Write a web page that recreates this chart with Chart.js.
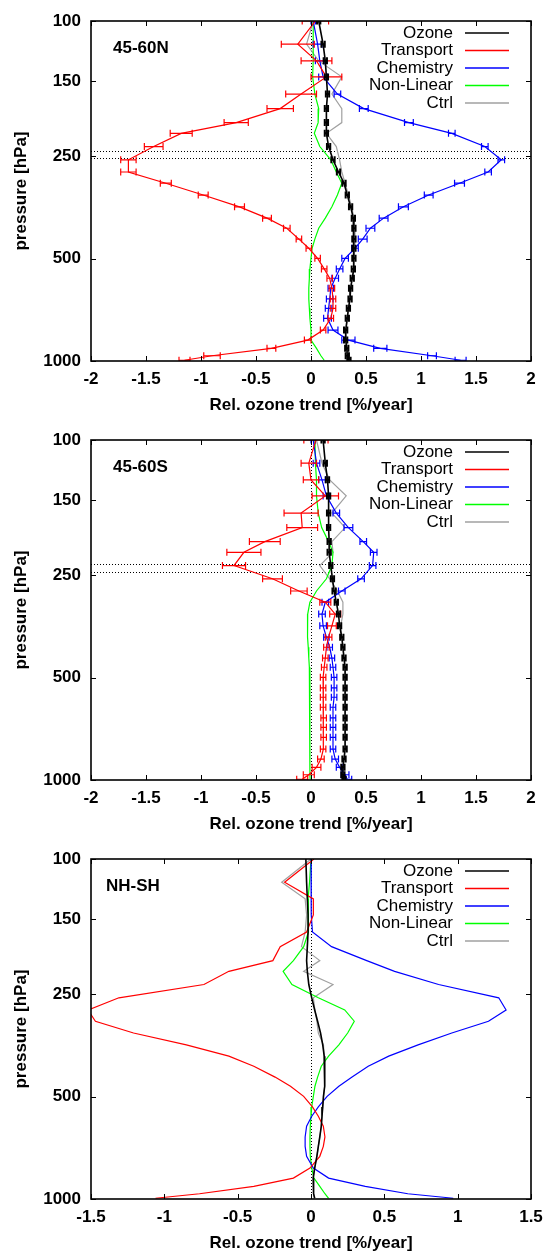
<!DOCTYPE html>
<html>
<head>
<meta charset="utf-8">
<script src="https://cdn.jsdelivr.net/npm/chart.js@4.4.0/dist/chart.umd.min.js"></script>
<style>
  body { margin: 0; background: #fff; overflow: hidden; width: 543px; height: 1251px; }
  canvas { display: block; }
</style>
</head>
<body>
<canvas id="panel-n" width="543" height="419"></canvas>
<canvas id="panel-s" width="543" height="419"></canvas>
<canvas id="panel-d" width="543" height="419"></canvas>
<script>
// ---------------------------------------------------------------
// model levels [hPa] and axis ticks
// ---------------------------------------------------------------
const levels = [100, 117, 131, 146, 164, 181, 199, 214, 234, 256, 278, 300, 325, 352, 380,
                407, 438, 466, 499, 536, 571, 611, 657, 700, 749, 811, 868, 918, 965, 995];
const pressureTicks = [100, 150, 250, 500, 1000];
const trendTicksWide = [-2, -1.5, -1, -0.5, 0, 0.5, 1, 1.5, 2];
const trendTicksNarrow = [-1.5, -1, -0.5, 0, 0.5, 1, 1.5];
const seriesNames = ['Ozone', 'Transport', 'Chemistry', 'Non-Linear', 'Ctrl'];

// tropopause pressures (dotted lines)
const tropN = [241, 253];
const tropS = [231, 244];

// ---------------------------------------------------------------
// 45-60N
// ---------------------------------------------------------------
const ozoneN = [0.07, 0.11, 0.13, 0.14, 0.15, 0.14, 0.14, 0.14, 0.16, 0.20, 0.25, 0.30, 0.33, 0.36, 0.385,
                0.39, 0.39, 0.39, 0.39, 0.385, 0.375, 0.36, 0.355, 0.34, 0.33, 0.315, 0.315, 0.325, 0.33, 0.345];
const ozoneNErr = [0.015, 0.015, 0.015, 0.015, 0.015, 0.015, 0.015, 0.015, 0.015, 0.015, 0.015, 0.015, 0.015, 0.015, 0.015,
                   0.015, 0.015, 0.015, 0.015, 0.015, 0.015, 0.015, 0.015, 0.015, 0.015, 0.015, 0.015, 0.015, 0.015, 0.015];
const transN = [0.04, -0.12, 0.05, 0.14, -0.09, -0.28, -0.68, -1.18, -1.43, -1.66, -1.66, -1.32, -0.98, -0.65, -0.40,
                -0.22, -0.11, -0.02, 0.06, 0.12, 0.17, 0.19, 0.20, 0.20, 0.18, 0.11, -0.03, -0.36, -0.90, -1.15];
const transNErr = [0.12, 0.15, 0.14, 0.14, 0.14, 0.12, 0.11, 0.10, 0.085, 0.07, 0.07, 0.05, 0.045, 0.045, 0.04,
                   0.03, 0.025, 0.025, 0.025, 0.025, 0.025, 0.025, 0.025, 0.025, 0.025, 0.025, 0.03, 0.04, 0.075, 0.05];
const chemN = [0.02, 0.06, 0.08, 0.11, 0.24, 0.48, 0.89, 1.28, 1.58, 1.73, 1.61, 1.35, 1.07, 0.84, 0.66,
               0.54, 0.47, 0.40, 0.31, 0.26, 0.22, 0.18, 0.17, 0.16, 0.15, 0.20, 0.34, 0.63, 1.10, 1.36];
const chemNErr = [0.02, 0.04, 0.04, 0.04, 0.03, 0.04, 0.04, 0.03, 0.03, 0.03, 0.03, 0.045, 0.04, 0.045, 0.04,
                  0.04, 0.04, 0.03, 0.03, 0.03, 0.03, 0.025, 0.03, 0.03, 0.035, 0.045, 0.06, 0.06, 0.04, 0.05];
const nonlinN = [0.02, 0.02, 0.02, 0.015, 0.035, 0.07, 0.065, 0.03, 0.08, 0.18, 0.23, 0.28, 0.24, 0.19, 0.13,
                 0.07, 0.035, 0.01, 0.0, -0.01, -0.015, -0.02, -0.02, -0.015, -0.01, 0.0, 0.0, 0.05, 0.09, 0.12];
const ctrlN = [0.02, -0.04, 0.07, 0.28, 0.19, 0.28, 0.28, 0.14, 0.23, 0.26, 0.28, 0.31, 0.34, 0.37, 0.39,
               0.40, 0.40, 0.40, 0.39, 0.385, 0.375, 0.36, 0.355, 0.34, 0.33, 0.32, 0.32, 0.33, 0.335, 0.35];

// ---------------------------------------------------------------
// 45-60S
// ---------------------------------------------------------------
const ozoneS = [0.11, 0.13, 0.15, 0.16, 0.16, 0.16, 0.165, 0.165, 0.18, 0.195, 0.21, 0.23, 0.25, 0.26, 0.28,
                0.29, 0.30, 0.31, 0.31, 0.31, 0.31, 0.31, 0.31, 0.31, 0.31, 0.31, 0.30, 0.29, 0.29, 0.30];
const ozoneSErr = [0.015, 0.015, 0.015, 0.015, 0.015, 0.015, 0.015, 0.015, 0.015, 0.015, 0.015, 0.015, 0.015, 0.015, 0.015,
                   0.015, 0.015, 0.015, 0.015, 0.015, 0.015, 0.015, 0.015, 0.015, 0.015, 0.015, 0.015, 0.015, 0.015, 0.015];
const transS = [0.045, -0.02, 0.0, 0.13, -0.09, -0.08, -0.42, -0.61, -0.70, -0.35, -0.11, 0.13, 0.22, 0.19, 0.16,
                0.14, 0.13, 0.12, 0.11, 0.11, 0.11, 0.11, 0.115, 0.115, 0.115, 0.11, 0.09, 0.05, -0.02, -0.08];
const transSErr = [0.11, 0.07, 0.07, 0.12, 0.155, 0.14, 0.14, 0.155, 0.105, 0.09, 0.075, 0.05, 0.05, 0.04, 0.03,
                   0.025, 0.025, 0.025, 0.025, 0.025, 0.025, 0.025, 0.025, 0.025, 0.025, 0.025, 0.03, 0.04, 0.05, 0.05];
const chemS = [0.02, 0.05, 0.10, 0.14, 0.23, 0.34, 0.475, 0.57, 0.56, 0.455, 0.28, 0.13, 0.10, 0.11, 0.14,
               0.17, 0.19, 0.20, 0.21, 0.21, 0.21, 0.20, 0.20, 0.20, 0.20, 0.20, 0.22, 0.26, 0.31, 0.33];
const chemSErr = [0.02, 0.03, 0.03, 0.03, 0.03, 0.04, 0.03, 0.03, 0.03, 0.03, 0.03, 0.03, 0.03, 0.03, 0.025,
                  0.025, 0.025, 0.025, 0.025, 0.025, 0.025, 0.025, 0.025, 0.025, 0.025, 0.025, 0.03, 0.03, 0.035, 0.04];
const nonlinS = [0.036, 0.04, 0.05, 0.05, 0.066, 0.097, 0.16, 0.20, 0.19, 0.14, 0.05, -0.01, -0.03, -0.033, -0.03,
                 -0.025, -0.02, -0.015, -0.01, -0.01, -0.01, -0.01, -0.01, -0.01, -0.01, -0.01, -0.01, -0.01, -0.01, -0.008];
const ctrlS = [0.05, 0.10, 0.17, 0.32, 0.19, 0.31, 0.19, 0.20, 0.08, 0.17, 0.24, 0.29, 0.29, 0.27, 0.28,
               0.29, 0.30, 0.31, 0.31, 0.31, 0.31, 0.31, 0.31, 0.31, 0.31, 0.31, 0.30, 0.29, 0.29, 0.30];

// ---------------------------------------------------------------
// NH-SH difference
// ---------------------------------------------------------------
const ozoneD = [-0.035, -0.03, -0.025, -0.02, -0.02, -0.025, -0.03, -0.025, -0.015, 0.005, 0.025, 0.045, 0.065, 0.08, 0.09,
                0.095, 0.095, 0.09, 0.085, 0.08, 0.075, 0.07, 0.06, 0.05, 0.04, 0.025, 0.015, 0.015, 0.02, 0.025];
const transD = [0.02, -0.18, 0.016, 0.016, -0.03, -0.21, -0.26, -0.56, -0.73, -1.31, -1.52, -1.47, -1.21, -0.85, -0.56,
                -0.39, -0.245, -0.14, -0.05, 0.01, 0.05, 0.084, 0.095, 0.084, 0.06, -0.007, -0.12, -0.39, -0.76, -1.06];
const chemD = [0.0, 0.0, 0.005, 0.0, 0.01, 0.14, 0.38, 0.57, 0.87, 1.28, 1.33, 1.21, 0.96, 0.73, 0.53,
               0.39, 0.28, 0.19, 0.11, 0.05, 0.005, -0.03, -0.04, -0.04, -0.03, 0.016, 0.12, 0.37, 0.66, 0.97];
const nonlinD = [0.0, -0.01, -0.02, -0.02, -0.015, -0.05, -0.12, -0.19, -0.13, 0.05, 0.23, 0.295, 0.25, 0.19, 0.12,
                 0.07, 0.045, 0.027, 0.016, 0.005, 0.0, -0.005, -0.007, -0.007, -0.005, 0.005, 0.02, 0.06, 0.095, 0.12];
const ctrlD = [0.0, -0.20, -0.04, -0.03, -0.04, -0.065, 0.06, -0.05, 0.15, 0.016, 0.027, 0.04, 0.05, 0.085, 0.09,
               0.095, 0.095, 0.09, 0.085, 0.08, 0.075, 0.07, 0.06, 0.05, 0.04, 0.025, 0.015, 0.015, 0.02, 0.025];

// ---------------------------------------------------------------
// look
// ---------------------------------------------------------------
const FONT = "'Liberation Sans', Arial, Helvetica, sans-serif";
Chart.defaults.font.family = FONT;
Chart.defaults.color = '#000';
const seriesColors = ['#000000', '#ff0000', '#0000ff', '#00ff00', '#a0a0a0'];

// frame, inner ticks, dotted lines, error bars, key and panel name (gnuplot style)
const panelDecor = {
  id: 'panelDecor',
  beforeDatasetsDraw(chart, args, opts) {
    const {ctx, chartArea: a} = chart;
    const x = chart.scales.x, y = chart.scales.y;
    ctx.save();
    ctx.beginPath();
    ctx.rect(a.left, a.top, a.width, a.height);
    ctx.clip();
    ctx.strokeStyle = '#000';
    ctx.lineWidth = 1;
    ctx.setLineDash([1, 2]);
    const x0 = Math.round(x.getPixelForValue(0)) + 0.5;
    ctx.beginPath();
    ctx.moveTo(x0, a.top);
    ctx.lineTo(x0, a.bottom);
    ctx.stroke();
    (opts.tropopause || []).forEach(p => {
      const yy = Math.round(y.getPixelForValue(p)) + 0.5;
      ctx.beginPath();
      ctx.moveTo(a.left, yy);
      ctx.lineTo(a.right, yy);
      ctx.stroke();
    });
    ctx.restore();
  },
  afterDatasetDraw(chart, args) {
    const ds = chart.data.datasets[args.index];
    if (!ds.errors) return;
    const {ctx, chartArea: a} = chart;
    const x = chart.scales.x, y = chart.scales.y;
    ctx.save();
    ctx.beginPath();
    ctx.rect(a.left, a.top, a.width, a.height);
    ctx.clip();
    ctx.strokeStyle = ds.borderColor;
    ctx.lineWidth = ds.errorLineWidth;
    ds.data.forEach((pt, i) => {
      const e = ds.errors[i];
      const x1 = x.getPixelForValue(pt.x - e);
      const x2 = x.getPixelForValue(pt.x + e);
      const yy = y.getPixelForValue(pt.y);
      ctx.beginPath();
      ctx.moveTo(x1, yy); ctx.lineTo(x2, yy);
      ctx.moveTo(x1, yy - 3.5); ctx.lineTo(x1, yy + 3.5);
      ctx.moveTo(x2, yy - 3.5); ctx.lineTo(x2, yy + 3.5);
      ctx.stroke();
    });
    ctx.restore();
  },
  afterDraw(chart, args, opts) {
    const {ctx, chartArea: a} = chart;
    const x = chart.scales.x, y = chart.scales.y;
    ctx.save();

    // border
    ctx.strokeStyle = '#000';
    ctx.lineWidth = 1.6;
    ctx.strokeRect(a.left, a.top, a.width, a.height);

    // ticks pointing inwards, mirrored on all sides
    ctx.lineWidth = 1;
    ctx.beginPath();
    x.ticks.forEach(t => {
      const px = Math.round(x.getPixelForValue(t.value)) + 0.5;
      ctx.moveTo(px, a.bottom); ctx.lineTo(px, a.bottom - 5);
      ctx.moveTo(px, a.top); ctx.lineTo(px, a.top + 5);
    });
    y.ticks.forEach(t => {
      const py = Math.round(y.getPixelForValue(t.value)) + 0.5;
      ctx.moveTo(a.left, py); ctx.lineTo(a.left + 5, py);
      ctx.moveTo(a.right, py); ctx.lineTo(a.right - 5, py);
    });
    ctx.stroke();

    // key
    ctx.font = '17px ' + FONT;
    ctx.textAlign = 'right';
    ctx.textBaseline = 'middle';
    chart.data.datasets.forEach((ds, i) => {
      const yy = a.top + 12 + i * 17.5;
      ctx.fillStyle = '#000';
      ctx.fillText(ds.label, a.right - 78, yy);
      ctx.strokeStyle = ds.borderColor;
      ctx.lineWidth = 1.5;
      ctx.beginPath();
      ctx.moveTo(a.right - 66, yy);
      ctx.lineTo(a.right - 22, yy);
      ctx.stroke();
    });

    // panel name
    ctx.font = 'bold 17px ' + FONT;
    ctx.textAlign = 'left';
    ctx.fillStyle = '#000';
    ctx.fillText(opts.label, a.left + opts.labelOffset, a.top + 27);
    ctx.restore();
  }
};

function drawPanel(canvasId, panel) {
  const datasets = panel.series.map((s, i) => ({
    label: seriesNames[i],
    data: levels.map((p, k) => ({x: s.values[k], y: p})),
    errors: s.errors,
    borderColor: seriesColors[i],
    borderWidth: i === 0 ? 1.6 : 1.2,
    errorLineWidth: i === 0 ? 2 : 1.2,
    pointRadius: 0,
    showLine: true,
    tension: 0,
    fill: false
  }));

  const tickFont = {size: 17, weight: 'bold'};

  new Chart(document.getElementById(canvasId), {
    type: 'scatter',
    data: {datasets: datasets},
    options: {
      responsive: false,
      animation: false,
      events: [],
      layout: {padding: {left: 0, right: 12, top: 21, bottom: 0}},
      plugins: {
        legend: {display: false},
        tooltip: {enabled: false},
        panelDecor: {tropopause: panel.tropopause, label: panel.label, labelOffset: panel.labelOffset}
      },
      scales: {
        x: {
          type: 'linear',
          min: panel.xTicks[0],
          max: panel.xTicks[panel.xTicks.length - 1],
          afterBuildTicks: s => { s.ticks = panel.xTicks.map(v => ({value: v})); },
          afterFit: s => { s.height = 58; s.paddingLeft = 0; s.paddingRight = 0; },
          grid: {display: false, drawTicks: false},
          border: {display: false},
          ticks: {autoSkip: false, maxRotation: 0, padding: 8, font: tickFont, color: '#000',
                  callback: v => String(v)},
          title: {display: true, text: 'Rel. ozone trend [%/year]', font: tickFont, color: '#000',
                  padding: {top: 0, bottom: 3}}
        },
        y: {
          type: 'logarithmic',
          min: 100,
          max: 1000,
          reverse: true,
          afterBuildTicks: s => { s.ticks = pressureTicks.map(v => ({value: v})); },
          afterFit: s => { s.width = 91; s.paddingTop = 0; s.paddingBottom = 0; },
          grid: {display: false, drawTicks: false},
          border: {display: false},
          ticks: {autoSkip: false, padding: 10, font: tickFont, color: '#000',
                  callback: v => String(v)},
          title: {display: true, text: 'pressure [hPa]', font: tickFont, color: '#000',
                  padding: {top: 11, bottom: 0}}
        }
      }
    },
    plugins: [panelDecor]
  });
}

drawPanel('panel-n', {
  label: '45-60N', labelOffset: 22, xTicks: trendTicksWide, tropopause: tropN,
  series: [
    {values: ozoneN, errors: ozoneNErr},
    {values: transN, errors: transNErr},
    {values: chemN, errors: chemNErr},
    {values: nonlinN},
    {values: ctrlN}
  ]
});

drawPanel('panel-s', {
  label: '45-60S', labelOffset: 22, xTicks: trendTicksWide, tropopause: tropS,
  series: [
    {values: ozoneS, errors: ozoneSErr},
    {values: transS, errors: transSErr},
    {values: chemS, errors: chemSErr},
    {values: nonlinS},
    {values: ctrlS}
  ]
});

drawPanel('panel-d', {
  label: 'NH-SH', labelOffset: 15, xTicks: trendTicksNarrow, tropopause: [],
  series: [
    {values: ozoneD},
    {values: transD},
    {values: chemD},
    {values: nonlinD},
    {values: ctrlD}
  ]
});
</script>
</body>
</html>
